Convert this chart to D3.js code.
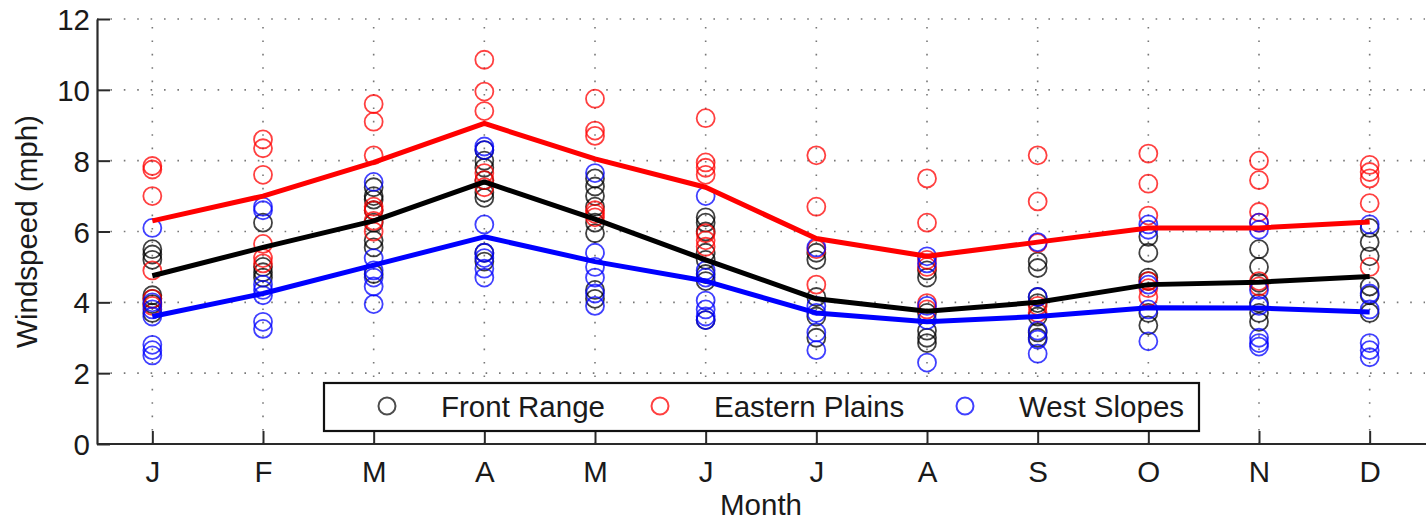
<!DOCTYPE html>
<html>
<head>
<meta charset="utf-8">
<script src="https://cdn.jsdelivr.net/npm/d3@7"></script>
<style>
  body { margin: 0; background: #fff; }
  text { font-family: "Liberation Sans", Arial, sans-serif; fill: #1a1a1a; }
</style>
</head>
<body>
<div id="chart"></div>
<script>
// Month labels and values
const months = ["J", "F", "M", "A", "M", "J", "J", "A", "S", "O", "N", "D"];
const yTicks = [0, 2, 4, 6, 8, 10, 12];

// individual station values per month
const frontRange = [
  [5.5, 5.35, 5.2, 4.2, 4.1, 3.95, 3.7],
  [6.25, 5.0, 4.85, 4.7],
  [7.25, 7.0, 6.9, 6.6, 6.25, 5.75, 5.55, 4.8],
  [8.3, 8.0, 7.8, 7.45, 7.1, 6.95, 5.4, 5.15],
  [7.5, 7.27, 7.0, 6.7, 6.25, 5.95, 4.35, 4.1],
  [6.4, 6.25, 6.0, 5.4, 5.2, 4.8, 4.6, 3.5],
  [5.4, 5.2, 4.15, 3.6, 3.0],
  [4.9, 4.7, 3.7, 3.2, 3.0, 2.85],
  [5.15, 4.97, 4.15, 3.98, 3.6, 3.15, 3.0],
  [5.85, 5.4, 4.7, 4.6, 3.7, 3.35],
  [5.5, 5.0, 4.55, 3.98, 3.7, 3.45],
  [6.1, 5.7, 5.3, 4.45, 4.2, 3.7]
];
const easternPlains = [
  [7.85, 7.75, 7.0, 4.9, 4.1, 3.9],
  [8.6, 8.35, 7.6, 5.65, 5.25, 5.1],
  [9.6, 9.1, 8.15, 6.7, 6.6, 6.3, 6.0],
  [10.85, 9.95, 9.4, 7.65, 7.45, 7.25],
  [9.75, 8.85, 8.7, 6.6, 6.5, 6.4],
  [9.2, 7.95, 7.8, 7.6, 5.95, 5.75, 5.57],
  [8.15, 6.7, 5.5, 4.5],
  [7.5, 6.25, 5.2, 5.0, 3.98, 3.8],
  [8.15, 6.85, 5.67, 3.9, 3.7],
  [8.2, 7.35, 6.45, 4.6, 4.4, 4.15],
  [8.0, 7.45, 6.55, 6.25, 4.6, 4.45],
  [7.88, 7.68, 7.5, 6.8, 5.0]
];
const westSlopes = [
  [6.1, 4.0, 3.8, 3.6, 2.8, 2.65, 2.5],
  [6.7, 6.6, 4.5, 4.35, 4.2, 3.45, 3.25],
  [7.4, 5.25, 4.9, 4.7, 4.45, 3.95],
  [8.4, 8.3, 6.2, 5.4, 5.25, 4.95, 4.7],
  [7.65, 5.4, 5.0, 4.7, 4.25, 3.9],
  [7.0, 4.9, 4.7, 4.05, 3.8, 3.6, 3.5],
  [5.55, 3.9, 3.7, 3.15, 2.65],
  [5.3, 5.1, 3.9, 3.5, 2.3],
  [5.7, 4.15, 3.2, 2.95, 2.55],
  [6.2, 6.05, 4.5, 3.8, 2.9],
  [6.25, 6.05, 4.35, 3.9, 3.0, 2.85, 2.75],
  [6.2, 4.25, 3.8, 2.85, 2.65, 2.45]
];

// monthly mean lines
const frontMean   = [4.75, 5.55, 6.3, 7.4, 6.35, 5.2, 4.1, 3.75, 4.0, 4.5, 4.57, 4.73];
const easternMean = [6.3, 7.0, 7.95, 9.05, 8.05, 7.25, 5.8, 5.3, 5.7, 6.1, 6.1, 6.27];
const westMean    = [3.6, 4.25, 5.05, 5.85, 5.15, 4.6, 3.7, 3.45, 3.6, 3.85, 3.84, 3.73];

const series = [
  { name: "Front Range", color: "#000000", pts: frontRange, mean: frontMean },
  { name: "Eastern Plains", color: "#ff0000", pts: easternPlains, mean: easternMean },
  { name: "West Slopes", color: "#0000ff", pts: westSlopes, mean: westMean }
];

const W = 1426, H = 521;
const plot = { left: 97, right: 1425, top: 19, bottom: 444 };
const fontSize = "29.5px";

const x = d3.scaleLinear().domain([0.5, 12.5]).range([plot.left, plot.right]);
const y = d3.scaleLinear().domain([0, 12]).range([plot.bottom, plot.top]);

const svg = d3.select("#chart")
  .append("svg")
  .attr("width", W)
  .attr("height", H);

// dotted grid
const grid = svg.append("g")
  .attr("stroke", "#777")
  .attr("stroke-width", 1.6)
  .attr("stroke-dasharray", "1.6 11.8");

grid.selectAll(".gx")
  .data(d3.range(1, 13))
  .join("line")
  .attr("x1", d => x(d))
  .attr("x2", d => x(d))
  .attr("y1", plot.bottom)
  .attr("y2", plot.top);

grid.selectAll(".gy")
  .data(yTicks.slice(1))
  .join("line")
  .attr("x1", plot.left)
  .attr("x2", plot.right)
  .attr("y1", d => y(d))
  .attr("y2", d => y(d));

// axes
const xAxis = svg.append("g")
  .attr("transform", `translate(0,${plot.bottom})`)
  .call(d3.axisBottom(x)
    .tickValues(d3.range(1, 13))
    .tickFormat(d => months[d - 1])
    .tickSizeInner(-13)
    .tickSizeOuter(0)
    .tickPadding(17));

const yAxis = svg.append("g")
  .attr("transform", `translate(${plot.left},0)`)
  .call(d3.axisLeft(y)
    .tickValues(yTicks)
    .tickSizeInner(-13)
    .tickSizeOuter(0)
    .tickPadding(7));

[xAxis, yAxis].forEach(g => {
  g.select(".domain").attr("stroke", "#2a2a2a").attr("stroke-width", 2.2);
  g.selectAll(".tick line").attr("stroke", "#2a2a2a").attr("stroke-width", 2);
  g.selectAll(".tick text")
    .style("font-size", fontSize)
    .style("font-family", "'Liberation Sans', Arial, sans-serif")
    .attr("fill", "#1a1a1a");
});
xAxis.select(".domain").attr("d", `M${plot.left},0H${W}`);
yAxis.selectAll(".tick text").attr("dy", "0.36em");

// scatter circles
series.forEach(s => {
  const pts = [];
  s.pts.forEach((vals, i) => vals.forEach(v => pts.push({ m: i + 1, v: v })));
  svg.append("g")
    .selectAll("circle")
    .data(pts)
    .join("circle")
    .attr("cx", d => x(d.m))
    .attr("cy", d => y(d.v))
    .attr("r", 9)
    .attr("fill", "none")
    .attr("stroke", s.color)
    .attr("stroke-opacity", 0.75)
    .attr("stroke-width", 1.8);
});

// mean lines
const line = d3.line()
  .x((d, i) => x(i + 1))
  .y(d => y(d));

series.forEach(s => {
  svg.append("path")
    .datum(s.mean)
    .attr("fill", "none")
    .attr("stroke", s.color)
    .attr("stroke-width", 5)
    .attr("stroke-linejoin", "round")
    .attr("d", line);
});

// legend
const legend = svg.append("g");
legend.append("rect")
  .attr("x", 324)
  .attr("y", 383)
  .attr("width", 875)
  .attr("height", 48)
  .attr("fill", "#fff")
  .attr("stroke", "#111")
  .attr("stroke-width", 2.2);

const legendX = [387, 660, 965];
series.forEach((s, i) => {
  legend.append("circle")
    .attr("cx", legendX[i])
    .attr("cy", 406)
    .attr("r", 8.5)
    .attr("fill", "none")
    .attr("stroke", s.color)
    .attr("stroke-opacity", i === 0 ? 0.7 : 0.75)
    .attr("stroke-width", 2);
  legend.append("text")
    .attr("x", legendX[i] + 54)
    .attr("y", 417)
    .style("font-size", fontSize)
    .text(s.name);
});

// axis titles
svg.append("text")
  .attr("x", (plot.left + plot.right) / 2)
  .attr("y", 515)
  .attr("text-anchor", "middle")
  .style("font-size", fontSize)
  .text("Month");

svg.append("text")
  .attr("transform", `translate(37,${(plot.top + plot.bottom) / 2}) rotate(-90)`)
  .attr("text-anchor", "middle")
  .style("font-size", fontSize)
  .text("Windspeed (mph)");
</script>
</body>
</html>
